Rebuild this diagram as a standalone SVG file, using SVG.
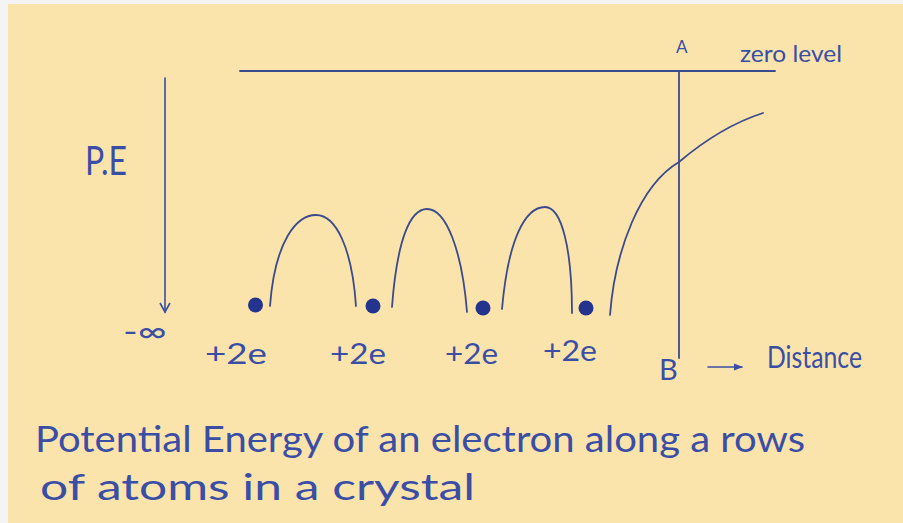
<svg xmlns="http://www.w3.org/2000/svg" width="903" height="523" viewBox="0 0 903 523">
  <defs>
    <style>
      .ln { fill: none; stroke: #3b4a8e; stroke-width: 1.8; stroke-linecap: round; stroke-linejoin: round; }
      .ink { fill: none; stroke: #3a4ea6; stroke-width: 1.6; stroke-linecap: round; stroke-linejoin: round; }
      .txt { font-family: "Lato", "Open Sans", "Liberation Sans", sans-serif; font-weight: 400; fill: #3a4ea6; }
      .dot { fill: #24348e; }
    </style>
    <marker id="vhead" viewBox="0 0 12 12" refX="10" refY="6" markerWidth="12" markerHeight="12" markerUnits="userSpaceOnUse" orient="auto">
      <path d="M1,1 L10,6 L1,11" fill="none" stroke="#3a4ea6" stroke-width="1.6"/>
    </marker>
    <marker id="shead" viewBox="0 0 10 10" refX="9" refY="5" markerWidth="9" markerHeight="9" markerUnits="userSpaceOnUse" orient="auto">
      <path d="M0,1 L10,5 L0,9 Z" fill="#3a4ea6"/>
    </marker>
  </defs>

  <rect x="0" y="0" width="903" height="523" fill="#f4f4f4"/>
  <rect x="8" y="4" width="895" height="519" fill="#fae4ab"/>

  <g id="axes">
    <g id="zero-level">
      <line class="ln" x1="240" y1="71" x2="775" y2="71"/>
      <text class="txt" x="740" y="62" font-size="24" textLength="102" lengthAdjust="spacingAndGlyphs">zero level</text>
    </g>
    <g id="line-AB">
      <line class="ln" x1="679" y1="71" x2="679" y2="358"/>
      <text class="txt" x="676" y="53" font-size="17">A</text>
      <text class="txt" x="659" y="380" font-size="29">B</text>
    </g>
    <g id="pe-axis">
      <line class="ink" x1="165" y1="78" x2="165" y2="312" marker-end="url(#vhead)"/>
      <text class="txt" x="85" y="175" font-size="40" textLength="42" lengthAdjust="spacingAndGlyphs">P.E</text>
      <text class="txt" x="123" y="342" font-size="30" textLength="44" lengthAdjust="spacingAndGlyphs">-∞</text>
    </g>
    <g id="distance-axis">
      <line class="ink" x1="708" y1="367" x2="742" y2="367" marker-end="url(#shead)"/>
      <text class="txt" x="767" y="368" font-size="30" textLength="95" lengthAdjust="spacingAndGlyphs">Distance</text>
    </g>
  </g>

  <g id="potential-curve">
    <path class="ln" d="M270,306 C275,240 297,215 316,215 C336,215 352,248 356,306"/>
    <path class="ln" d="M392,307 C397,240 410,209 427,209 C446,209 462,250 467,312"/>
    <path class="ln" d="M502,309 C508,240 525,207 545,207 C562,207 572,250 572,313"/>
    <path class="ln" d="M610,315 C615,250 640,185 679,162 C705,140 735,122 763,113"/>
  </g>

  <g id="atom-1">
    <circle class="dot" cx="255.5" cy="305" r="7.5"/>
    <text class="txt" x="205" y="364" font-size="28" textLength="62" lengthAdjust="spacingAndGlyphs">+2e</text>
  </g>
  <g id="atom-2">
    <circle class="dot" cx="373" cy="306" r="7.5"/>
    <text class="txt" x="330" y="364" font-size="28" textLength="56" lengthAdjust="spacingAndGlyphs">+2e</text>
  </g>
  <g id="atom-3">
    <circle class="dot" cx="483" cy="308" r="7.5"/>
    <text class="txt" x="445" y="364" font-size="28" textLength="53" lengthAdjust="spacingAndGlyphs">+2e</text>
  </g>
  <g id="atom-4">
    <circle class="dot" cx="586" cy="308" r="7.5"/>
    <text class="txt" x="543" y="361" font-size="28" textLength="54" lengthAdjust="spacingAndGlyphs">+2e</text>
  </g>

  <g id="caption">
    <text class="txt" x="35" y="452" font-size="36" textLength="770" lengthAdjust="spacingAndGlyphs">Potential Energy of an electron along a rows</text>
    <text class="txt" x="40" y="500" font-size="36" textLength="435" lengthAdjust="spacingAndGlyphs">of atoms in a crystal</text>
  </g>
</svg>
